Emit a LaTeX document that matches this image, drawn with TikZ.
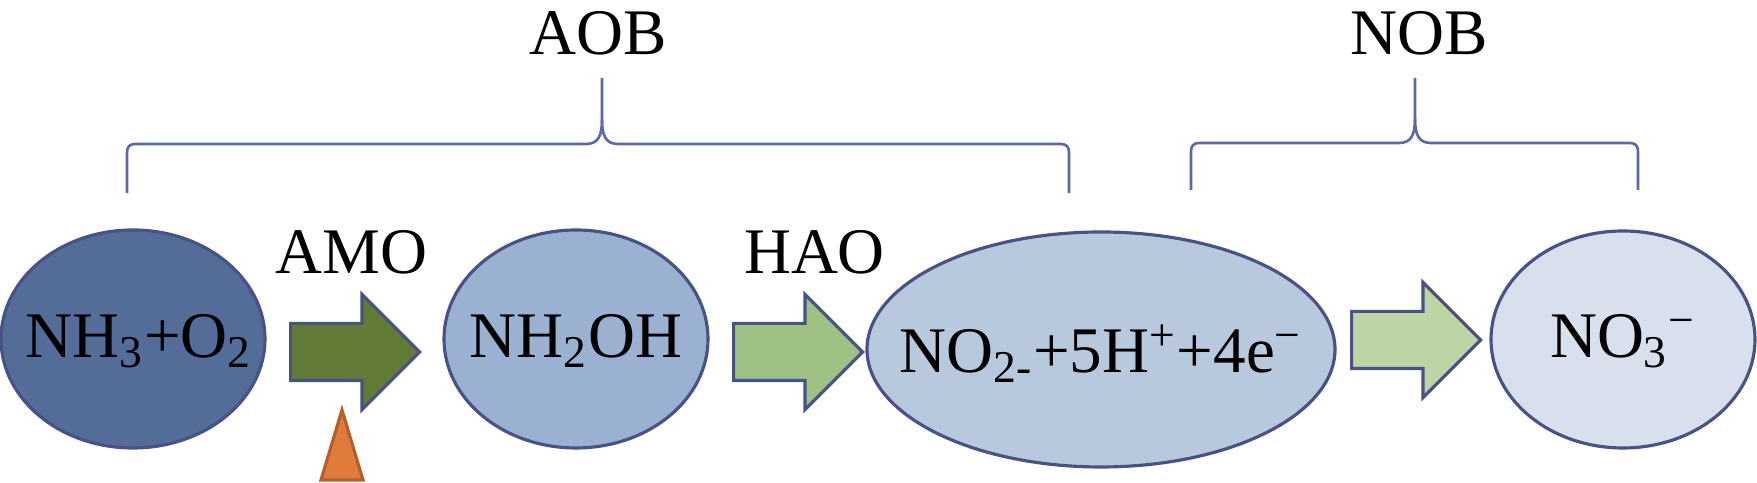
\documentclass[tikz,border=0pt]{standalone}
\usepackage{fontspec}
\setmainfont{Liberation Serif}
\usepackage{tikz}
\usetikzlibrary{shapes,arrows}
\definecolor{edgeblue}{RGB}{72,82,132}
\definecolor{braceblue}{RGB}{92,104,168}
\definecolor{nhfill}{RGB}{83,108,152}
\definecolor{ohfill}{RGB}{155,177,210}
\definecolor{nofill}{RGB}{184,201,222}
\definecolor{nthreefill}{RGB}{216,224,238}
\definecolor{amofill}{RGB}{100,122,55}
\definecolor{haofill}{RGB}{158,193,131}
\definecolor{nobfill}{RGB}{189,212,165}
\tikzstyle{state} = [ellipse, draw=edgeblue, line width=0.9pt, inner sep=0pt]
\tikzstyle{chem} = [anchor=base, inner sep=0pt, font=\fontsize{18.5}{22}\selectfont]
\tikzstyle{fat} = [single arrow, draw=edgeblue, line width=0.9pt, inner sep=0pt, minimum height=1.29cm, single arrow head extend=0.29cm, anchor=tail]
\tikzstyle{enzyme} = [anchor=base, inner sep=0pt, font=\fontsize{18.5}{22}\selectfont]
\tikzstyle{bracket} = [draw=braceblue, line width=0.75pt]

\begin{document}
\begin{tikzpicture}
\useasboundingbox (0,0) rectangle (17.57,4.83);
\node [state, fill=nhfill, minimum width=2.64cm, minimum height=2.18cm] (nh3) at (1.33,1.44) {};
\node [state, fill=ohfill, minimum width=2.64cm, minimum height=2.18cm] (nh2oh) at (5.76,1.44) {};
\node [state, fill=nofill, minimum width=4.68cm, minimum height=2.35cm] (no2) at (11.01,1.335) {};
\node [state, fill=nthreefill, minimum width=2.64cm, minimum height=2.17cm] (no3) at (16.23,1.435) {};
\node [chem] (nh3-text) at ([shift={(0.06,-0.19)}]nh3.center) {NH\textsubscript{3}+O\textsubscript{2}};
\node [chem] (nh2oh-text) at ([yshift=-0.19cm]nh2oh.center) {NH\textsubscript{2}OH};
\node [chem] (no2-text) at ([yshift=-0.235cm]no2.center) {NO\textsubscript{2-}+5H\textsuperscript{+}+4e\textsuperscript{−}};
\node [chem] (no3-text) at ([yshift=-0.185cm]no3.center) {NO\textsubscript{3}\textsuperscript{−}};
\node [fat, fill=amofill] (amo-arrow) at (2.89,1.31) {\rule{0pt}{0.54cm}};
\node [fat, fill=haofill] (hao-arrow) at (7.32,1.31) {\rule{0pt}{0.54cm}};
\node [fat, fill=nobfill] (nob-arrow) at (13.50,1.43) {\rule{0pt}{0.54cm}};
\node [enzyme] (amo) at (3.515,2.09) {AMO};
\node [enzyme] (hao) at (8.145,2.09) {HAO};
\node [enzyme] (aob) at (5.98,4.28) {AOB};
\node [enzyme] (nob) at (14.195,4.28) {NOB};
\draw [fill={rgb,255:red,224;green,123;blue,60}, draw={rgb,255:red,180;green,96;blue,42}, line width=0.9pt] (3.21,0.03) -- (3.42,0.73) -- (3.63,0.03) -- cycle;
% braces
\path [bracket] (1.27,2.90) -- (1.27,3.29) .. controls (1.27,3.37) and (1.29,3.39) .. (1.37,3.39) -- (5.86,3.39) .. controls (5.98,3.39) and (6.02,3.47) .. (6.02,3.63) -- (6.02,4.05);
\path [bracket] (6.02,3.63) .. controls (6.02,3.47) and (6.06,3.39) .. (6.18,3.39) -- (10.59,3.39) .. controls (10.67,3.39) and (10.69,3.37) .. (10.69,3.29) -- (10.69,2.90);
\path [bracket] (11.91,2.93) -- (11.91,3.30) .. controls (11.91,3.38) and (11.93,3.40) .. (12.01,3.40) -- (13.99,3.40) .. controls (14.11,3.40) and (14.15,3.48) .. (14.15,3.64) -- (14.15,4.05);
\path [bracket] (14.15,3.64) .. controls (14.15,3.48) and (14.19,3.40) .. (14.31,3.40) -- (16.28,3.40) .. controls (16.36,3.40) and (16.38,3.38) .. (16.38,3.30) -- (16.38,2.93);
\end{tikzpicture}
\end{document}
